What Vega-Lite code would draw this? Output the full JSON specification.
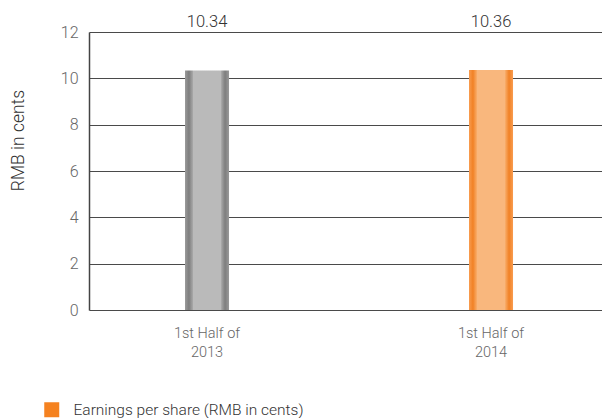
{
  "$schema": "https://vega.github.io/schema/vega-lite/v6.json",
  "width": 513,
  "height": 278,
  "autosize": "none",
  "padding": {"left": 89, "top": 32, "right": 0, "bottom": 108},
  "background": "white",
  "config": {
    "view": {"stroke": null},
    "font": "Roboto"
  },
  "data": {
    "values": [
      {"period": "1st Half of|2013", "eps": 10.34, "label": "10.34", "series": "Earnings per share (RMB in cents)"},
      {"period": "1st Half of|2014", "eps": 10.36, "label": "10.36", "series": "Earnings per share (RMB in cents)"}
    ]
  },
  "encoding": {
    "x": {
      "field": "period",
      "type": "nominal",
      "sort": null,
      "scale": {"paddingInner": 0.845, "paddingOuter": 0.3257, "align": 0.519},
      "axis": {
        "title": null,
        "labelAngle": 0,
        "labelExpr": "split(datum.value, '|')",
        "labelFont": "Roboto",
        "labelFontWeight": 300,
        "labelFontSize": 14.5,
        "labelColor": "#666666",
        "labelPadding": 16,
        "labelLineHeight": 19,
        "ticks": false,
        "domain": false,
        "grid": false
      }
    }
  },
  "layer": [
    {
      "mark": {"type": "bar", "opacity": 0},
      "encoding": {
        "y": {"field": "eps", "type": "quantitative"},
        "fill": {
          "field": "series",
          "type": "nominal",
          "scale": {"range": ["#f58220"]},
          "legend": {
            "title": null,
            "orient": "none",
            "legendX": -45,
            "legendY": 370,
            "padding": 0,
            "symbolType": "square",
            "symbolSize": 225,
            "symbolOpacity": 1,
            "symbolStrokeWidth": 0,
            "labelOffset": 14,
            "labelFont": "Roboto",
            "labelFontWeight": 300,
            "labelFontSize": 15.5,
            "labelColor": "#333333",
            "labelLimit": 400
          }
        }
      }
    },
    {
      "mark": {"type": "bar"},
      "encoding": {
        "y": {
          "field": "eps",
          "type": "quantitative",
          "scale": {"domain": [0, 12], "nice": false},
          "axis": {
            "title": "RMB in cents",
            "values": [0, 2, 4, 6, 8, 10, 12],
            "titleFont": "Roboto",
            "titleFontWeight": 300,
            "titleFontSize": 17.5,
            "titleColor": "#333333",
            "titleAngle": -90,
            "titleX": -71,
            "titleY": 108,
            "titleAlign": "center",
            "titleBaseline": "middle",
            "labelFont": "Roboto",
            "labelFontWeight": 300,
            "labelFontSize": 16,
            "labelColor": "#666666",
            "labelPadding": 11,
            "ticks": false,
            "domainColor": "#444444",
            "domainWidth": 1.5,
            "gridColor": "#4a4a4a",
            "gridWidth": 1,
            "gridOpacity": 1
          }
        },
        "fill": {
          "condition": {
            "test": "indexof(datum.period, '2013') >= 0",
            "value": {
              "gradient": "linear", "x1": 0, "x2": 1, "y1": 0, "y2": 0,
              "stops": [
                {"offset": 0, "color": "#9a9a9a"},
                {"offset": 0.09, "color": "#7e7e7e"},
                {"offset": 0.17, "color": "#a4a4a4"},
                {"offset": 0.18, "color": "#bababa"},
                {"offset": 0.82, "color": "#bababa"},
                {"offset": 0.83, "color": "#a4a4a4"},
                {"offset": 0.91, "color": "#7e7e7e"},
                {"offset": 1, "color": "#9a9a9a"}
              ]
            }
          },
          "value": {
            "gradient": "linear", "x1": 0, "x2": 1, "y1": 0, "y2": 0,
            "stops": [
              {"offset": 0, "color": "#f89c50"},
              {"offset": 0.09, "color": "#f18125"},
              {"offset": 0.17, "color": "#f8a862"},
              {"offset": 0.18, "color": "#f9b77d"},
              {"offset": 0.82, "color": "#f9b77d"},
              {"offset": 0.83, "color": "#f8a862"},
              {"offset": 0.91, "color": "#f18125"},
              {"offset": 1, "color": "#f89c50"}
            ]
          }
        }
      }
    },
    {
      "mark": {
        "type": "text",
        "dy": -10,
        "baseline": "middle",
        "font": "Roboto",
        "fontWeight": 300,
        "fontSize": 16.5,
        "color": "#333333"
      },
      "encoding": {
        "y": {"datum": 12, "type": "quantitative"},
        "text": {"field": "label"}
      }
    }
  ]
}
